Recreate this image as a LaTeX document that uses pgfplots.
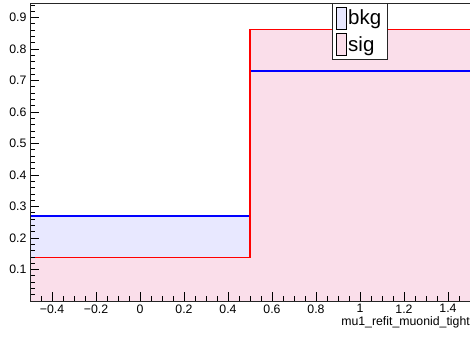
\documentclass[border=0pt]{standalone}
\usepackage{pgfplots}
\pgfplotsset{compat=1.18}
\usepackage{fontspec}
\setmainfont{Liberation Sans}

\definecolor{bkgfill}{RGB}{232,232,255}
\definecolor{sigfill}{RGB}{250,222,234}

% bin contents (left edge, value), last row closes the final bin
\pgfplotstableread{
x     y
-0.5  0.270
0.5   0.730
1.5   0.730
}\bkg
\pgfplotstableread{
x     y
-0.5  0.138
0.5   0.862
1.5   0.862
}\sig

\begin{document}
\begin{tikzpicture}
\begin{axis}[
  scale only axis, width=440pt, height=298pt,
  xmin=-0.5, xmax=1.5, ymin=0, ymax=0.946,
  axis line style={black!85, line width=0.6pt},
  axis on top,
  tick align=inside,
  tick style={black, line width=0.6pt},
  major tick length=9pt, minor tick length=4.5pt,
  xtick={-0.4,-0.2,0,0.2,0.4,0.6,0.8,1,1.2,1.4},
  xticklabels={−0.4,−0.2,0,0.2,0.4,0.6,0.8,1,1.2,1.4},
  minor xtick={-0.45,-0.35,-0.3,-0.25,-0.15,-0.1,-0.05,0.05,0.1,0.15,0.25,0.3,0.35,0.45,0.5,0.55,0.65,0.7,0.75,0.85,0.9,0.95,1.05,1.1,1.15,1.25,1.3,1.35,1.45},
  ytick={0.1,0.2,0.3,0.4,0.5,0.6,0.7,0.8,0.9},
  yticklabels={0.1,0.2,0.3,0.4,0.5,0.6,0.7,0.8,0.9},
  minor ytick={0.02,0.04,0.06,0.08,0.12,0.14,0.16,0.18,0.22,0.24,0.26,0.28,0.32,0.34,0.36,0.38,0.42,0.44,0.46,0.48,0.52,0.54,0.56,0.58,0.62,0.64,0.66,0.68,0.72,0.74,0.76,0.78,0.82,0.84,0.86,0.88,0.92,0.94},
  xtick pos=bottom, ytick pos=left,
  ticklabel style={font=\fontsize{12.3}{14}\selectfont},
  /pgf/number format/assume math mode=true,
  xlabel={mu1\_refit\_muonid\_tight},
  xlabel style={at={(axis description cs:1,0)}, anchor=north east, yshift=-15pt, inner sep=0pt, font=\fontsize{12.3}{14}\selectfont},
  legend image code/.code={\draw[#1] (0pt,-11pt) rectangle (10pt,11pt);},
  legend style={at={(0.686,1)}, anchor=north west, draw=black!85, line width=0.6pt,
    font=\fontsize{20.5}{23}\selectfont, inner xsep=3.5pt, inner ysep=3.5pt, row sep=4pt,
    cells={anchor=west}},
]
% filled areas
\addplot[const plot mark left, draw=none, fill=bkgfill] table[x=x,y=y] {\bkg} \closedcycle;
\addplot[const plot mark left, draw=none, fill=sigfill] table[x=x,y=y] {\sig} \closedcycle;
% outlines on top
\addplot[const plot mark left, draw=blue, line width=1.6pt] table[x=x,y=y] {\bkg};
\addplot[const plot mark left, draw=red, line width=1.8pt] table[x=x,y=y] {\sig};
\legend{}
\addlegendimage{draw=blue, line width=1.5pt, fill=bkgfill}
\addlegendentry{bkg}
\addlegendimage{draw=red, line width=1.5pt, fill=sigfill}
\addlegendentry{sig}
\coordinate (lo) at (rel axis cs:0,0);
\coordinate (hi) at (rel axis cs:1,1);
\end{axis}
\pgfresetboundingbox
\path[use as bounding box] ([shift={(-30pt,-37pt)}]lo) rectangle ([shift={(0pt,3pt)}]hi);
\end{tikzpicture}
\end{document}
